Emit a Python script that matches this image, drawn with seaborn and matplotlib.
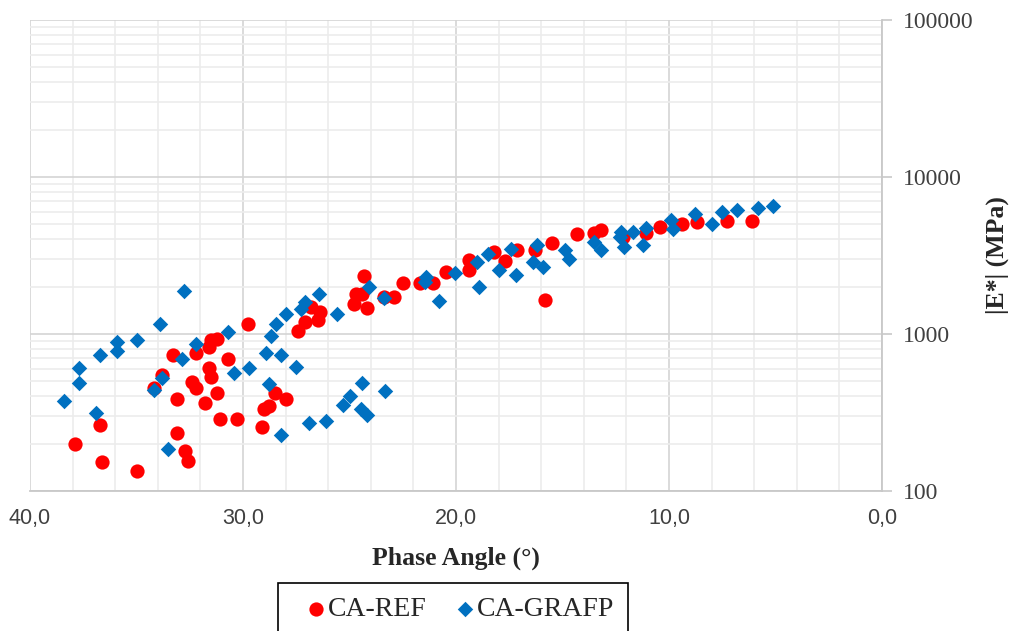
import numpy as np
import pandas as pd
import matplotlib
matplotlib.use("Agg")
import matplotlib.pyplot as plt
import matplotlib.ticker as mticker
import seaborn as sns

# -----------------------------------------
# DATA
# -----------------------------------------

ref_phase = [37.9, 36.7, 36.6, 35.0, 34.2, 33.8, 33.3, 33.1, 33.1, 32.7,
             32.6, 32.4, 32.2, 32.2, 31.8, 31.6, 31.5, 31.6, 31.5, 31.2,
             31.2, 31.1, 30.7, 30.3, 29.75, 29.1, 29.0, 28.8, 28.5, 28.0,
             27.4, 27.1, 26.5, 26.4, 26.8, 24.8, 24.7, 24.4, 24.2, 24.3,
             23.4, 22.9, 22.5, 21.7, 21.1, 20.45, 19.4, 19.4, 18.2, 17.7,
             17.15, 16.3, 15.8, 15.5, 14.3, 13.5, 13.2, 12.15, 11.1, 10.4,
             9.4, 8.7, 7.3, 6.1]
ref_modulus = [198, 264, 152, 134, 453, 552, 740, 388, 234, 180,
               155, 495, 450, 762, 364, 603, 533, 824, 912, 933,
               422, 286, 698, 286, 1153, 256, 335, 347, 423, 388,
               1042, 1189, 1225, 1383, 1489, 1549, 1811, 1811, 1455, 2344,
               1730, 1730, 2124, 2124, 2124, 2466, 2951, 2553, 3336, 2924,
               3420, 3420, 1641, 3776, 4326, 4374, 4594, 4124, 4406, 4821,
               5012, 5140, 5262, 5262]

grafp_phase = [38.4, 37.7, 37.7, 36.9, 36.7, 35.9, 35.9, 35.0, 33.9, 32.75,
               34.2, 33.8, 33.5, 32.85, 32.2, 30.7, 30.4, 29.7, 28.9, 28.2,
               28.7, 28.45, 28.0, 28.8, 28.2, 27.5, 27.3, 27.1, 26.45, 25.6,
               24.1, 23.4, 21.4, 21.45, 20.8, 20.05, 24.4, 23.35, 25.0, 25.3,
               24.45, 24.2, 26.1, 26.9, 18.9, 19.0, 18.5, 18.0, 17.4, 17.2,
               16.4, 16.2, 15.9, 14.9, 14.7, 13.5, 13.2, 12.25, 12.3, 12.1,
               11.7, 11.2, 11.1, 9.9, 9.8, 8.8, 8.0, 7.5, 6.8, 5.8, 5.1]
grafp_modulus = [375, 603, 488, 314, 736, 891, 780, 912, 1151, 1884,
                 438, 525, 186, 693, 859, 1024, 565, 603, 762, 740,
                 964, 1151, 1336, 477, 229, 617, 1439, 1603, 1787, 1333,
                 2001, 1690, 2317, 2148, 1630, 2460, 489, 433, 402, 353,
                 335, 305, 279, 271, 1995, 2884, 3228, 2553, 3459, 2393,
                 2884, 3681, 2682, 3420, 3000, 3865, 3404, 4443, 4170, 3589,
                 4476, 3715, 4721, 5309, 4667, 5822, 4990, 5998, 6123, 6310, 6546]

ref_df = pd.DataFrame({"phase": ref_phase, "modulus": ref_modulus})
grafp_df = pd.DataFrame({"phase": grafp_phase, "modulus": grafp_modulus})

x_major = [40, 30, 20, 10, 0]
y_major = [100, 1000, 10000, 100000]

# -----------------------------------------
# PLOT
# -----------------------------------------

sns.set_style("white")
serif = ["Liberation Serif", "DejaVu Serif"]
sans = ["Liberation Sans", "DejaVu Sans"]

fig = plt.figure(figsize=(10.11, 6.31), dpi=100)
ax = fig.add_axes([30 / 1011, 1 - 491 / 631, 852 / 1011, 471 / 631])

sns.scatterplot(data=ref_df, x="phase", y="modulus", ax=ax, marker="o",
                color="#ff0000", s=105, linewidth=0, label="CA-REF", zorder=3)
sns.scatterplot(data=grafp_df, x="phase", y="modulus", ax=ax, marker="D",
                color="#0070c0", s=62, linewidth=0, label="CA-GRAFP", zorder=4)

ax.set_yscale("log")
ax.set_xlim(40, 0)
ax.set_ylim(100, 100000)

# grid
ax.set_xticks(x_major)
ax.xaxis.set_minor_locator(mticker.MultipleLocator(2))
ax.yaxis.set_major_locator(mticker.FixedLocator(y_major))
ax.yaxis.set_minor_locator(mticker.LogLocator(base=10, subs=np.arange(2, 10)))
ax.yaxis.set_minor_formatter(mticker.NullFormatter())
ax.grid(which="major", color="#d4d4d4", linewidth=1.2)
ax.grid(which="minor", color="#ececec", linewidth=1.2)
ax.set_axisbelow(True)

# axes on right / bottom
ax.yaxis.tick_right()
ax.yaxis.set_label_position("right")
for side in ["left", "top"]:
    ax.spines[side].set_visible(False)
for side in ["right", "bottom"]:
    ax.spines[side].set_color("#c8c8c8")
    ax.spines[side].set_linewidth(1.3)

ax.xaxis.set_major_formatter(mticker.FuncFormatter(lambda v, p: f"{v:.1f}".replace(".", ",")))
ax.yaxis.set_major_formatter(mticker.FuncFormatter(lambda v, p: f"{int(v)}"))
ax.tick_params(axis="x", which="major", direction="out", length=7, width=1.2,
               color="#c8c8c8", pad=5, labelsize=15.5, labelcolor="#404040")
ax.tick_params(axis="y", which="major", direction="out", length=7, width=1.2,
               color="#c8c8c8", pad=8, labelsize=17, labelcolor="#404040")
ax.tick_params(which="minor", length=0)
for lab in ax.get_xticklabels():
    lab.set_family(sans)
for lab in ax.get_yticklabels():
    lab.set_family(serif)

ax.set_xlabel("Phase Angle (°)", family=serif, fontsize=18.5, fontweight="bold",
              labelpad=13)
ax.set_ylabel("")
fig.text(0.986, 1 - 255 / 631, "|E*| (MPa)", rotation=90, family=serif,
         fontsize=18.5, fontweight="bold", ha="center", va="center")

leg = ax.legend(loc="upper center", bbox_to_anchor=(453 / 1011, 1 - 583 / 631),
                bbox_transform=fig.transFigure, ncol=2, frameon=True,
                fancybox=False, edgecolor="black", framealpha=1,
                prop={"family": serif, "size": 20}, handletextpad=-0.43,
                columnspacing=0.5, borderpad=0.5, borderaxespad=0,
                markerscale=1.0, handlelength=1.73)
leg.get_frame().set_linewidth(1.2)

fig.savefig("out.png", dpi=100)
